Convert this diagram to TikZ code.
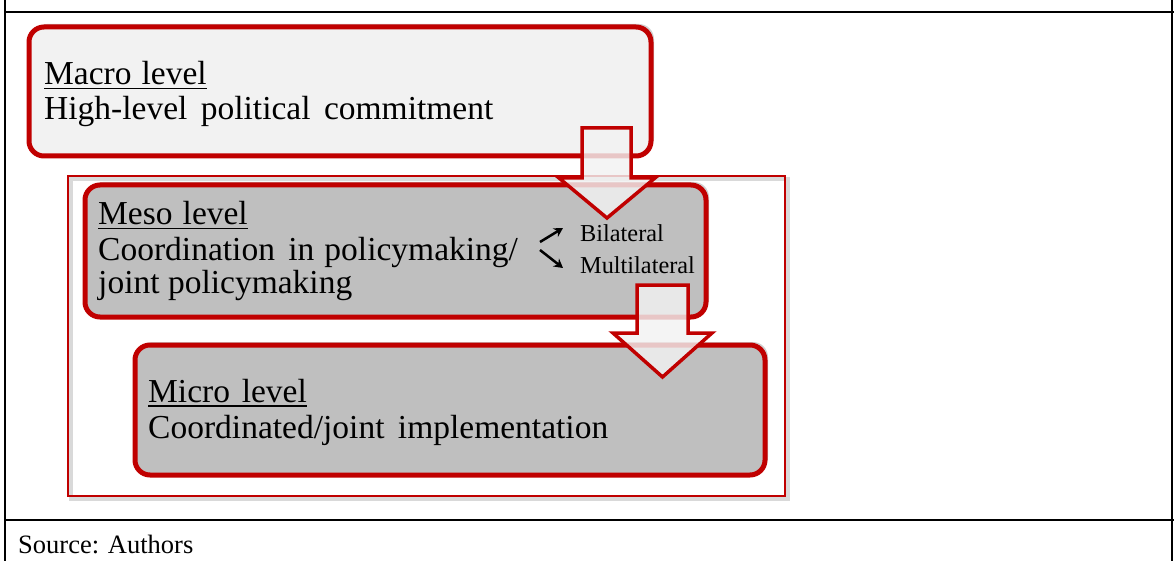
\documentclass[tikz,border=0pt]{standalone}
\usepackage{fontspec}
\setmainfont{Liberation Serif}
\usetikzlibrary{shadows,arrows.meta}
\definecolor{bred}{HTML}{C00000}
\definecolor{lightfill}{HTML}{F2F2F2}
\definecolor{midfill}{HTML}{BFBFBF}
\newcommand{\ulx}[1]{{\setbox0\hbox{#1}\rlap{\rule[-4.5pt]{\wd0}{1.8pt}}\box0}}
\tikzset{
  levelbox/.style={draw=bred, line width=5pt, rounded corners=15pt,
    drop shadow={shadow xshift=3pt, shadow yshift=3pt, opacity=0.3, fill=black!60}},
  frameline/.style={draw=black, line width=2pt},
  blockarrow/.style={draw=bred, line width=3.5pt, fill=lightfill, fill opacity=0.82, line join=miter},
  bigtext/.style={anchor=base west, inner sep=0pt, font=\fontsize{33.5}{36}\selectfont},
  smalltext/.style={anchor=base west, inner sep=0pt, font=\fontsize{24.3}{28}\selectfont},
  smallarrow/.style={draw=black, line width=2.5pt, -{Stealth[length=9pt,width=10pt]}}
}
\begin{document}
\begin{tikzpicture}[x=1pt,y=-1pt]
\useasboundingbox (0,0) rectangle (1174,561);
% frame
\draw[frameline] (5,0) -- (5,561);
\draw[frameline] (1172,0) -- (1172,561);
\draw[frameline] (5,12) -- (1174,12);
\draw[frameline] (5,520) -- (1174,520);
\node[smalltext, font=\fontsize{26.5}{30}\selectfont] (src) at (18,553) {Source: Authors};
% boxes
\path[levelbox, fill=lightfill] (29,27) rectangle (651,156);
\node[inner sep=0pt] (macro) at (340,91.5) {};
\draw[black, opacity=0.15, line width=4pt] (71,179) rectangle (788,499);
\draw[bred, line width=1.5pt] (68,176) rectangle (785,496);
\path[levelbox, fill=midfill] (85,185) rectangle (706,317);
\node[inner sep=0pt] (meso) at (395.5,251) {};
% arrow 1
\path[blockarrow] (582,128) -- (631,128) -- (631,178) -- (655,178) -- (607,218) -- (559,178) -- (582,178) -- cycle;
\path[levelbox, fill=midfill] (135,345) rectangle (765,475);
\node[inner sep=0pt] (micro) at (450,410) {};
% arrow 2
\path[blockarrow] (637,285) -- (688,285) -- (688,333) -- (712,333) -- (662.5,377) -- (613,333) -- (637,333) -- cycle;
% texts
\node[bigtext] (t1) at (44,85) {\ulx{Macro\hspace{0.3em}level}};
\node[bigtext] (t2) at (44,120) {High-level\hspace{0.4em}political\hspace{0.4em}commitment};
\node[bigtext] (t3) at (98,225) {\ulx{Meso\hspace{0.3em}level}};
\node[bigtext] (t4) at (98,260) {Coordination\hspace{0.4em}in\hspace{0.3em}policymaking/};
\node[bigtext] (t5) at (98,293) {joint policymaking};
\node[bigtext] (t6) at (148,402) {\ulx{Micro\hspace{0.35em}level}};
\node[bigtext] (t7) at (148,438) {Coordinated/joint\hspace{0.4em}implementation};
\node[smalltext] (bil) at (580,242) {Bilateral};
\node[smalltext] (mul) at (580,273) {Multilateral};
\coordinate (sa) at (540,242);
\coordinate (sb) at (540,250);
\draw[smallarrow] (sa) -- (563,228);
\draw[smallarrow] (sb) -- (563,268);
\end{tikzpicture}
\end{document}
